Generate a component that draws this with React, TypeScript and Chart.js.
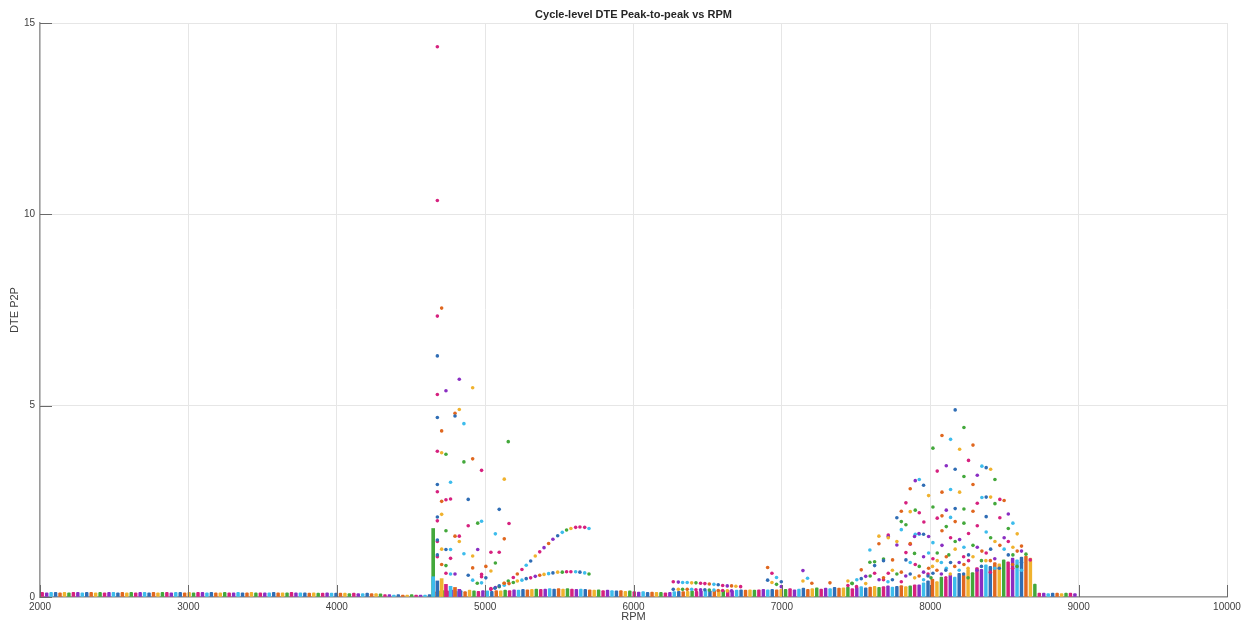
import React, { useEffect, useRef } from 'react';
import { Chart, registerables } from 'chart.js';

Chart.register(...registerables);

// ---- Texts ----
const chartTitle = 'Cycle-level DTE Peak-to-peak vs RPM';
const xTitle = 'RPM';
const yTitle = 'DTE P2P';

// ---- Axis ticks ----
const xTickValues = [2000, 3000, 4000, 5000, 6000, 7000, 8000, 9000, 10000];
const yTickValues = [0, 5, 10, 15];

// ---- Dense low band (stacked columns of cycles at each RPM step) ----
const baseRpm = [
  2015, 2045, 2075, 2105, 2135, 2165, 2195, 2225, 2255, 2285,
  2315, 2345, 2375, 2405, 2435, 2465, 2495, 2525, 2555, 2585,
  2615, 2645, 2675, 2705, 2735, 2765, 2795, 2825, 2855, 2885,
  2915, 2945, 2975, 3005, 3035, 3065, 3095, 3125, 3155, 3185,
  3215, 3245, 3275, 3305, 3335, 3365, 3395, 3425, 3455, 3485,
  3515, 3545, 3575, 3605, 3635, 3665, 3695, 3725, 3755, 3785,
  3815, 3845, 3875, 3905, 3935, 3965, 3995, 4025, 4055, 4085,
  4115, 4145, 4175, 4205, 4235, 4265, 4295,
  4325, 4355, 4385, 4415, 4445, 4475, 4505, 4535, 4565, 4595, 4625,
  4655, 4685, 4715, 4745, 4775, 4805, 4835, 4865, 4895, 4925, 4955, 4985,
  5015, 5045, 5075, 5105, 5135, 5165, 5195, 5225, 5255, 5285, 5315,
  5345, 5375, 5405, 5435, 5465, 5495, 5525, 5555, 5585, 5615, 5645,
  5675, 5705, 5735, 5765, 5795, 5825, 5855, 5885, 5915, 5945, 5975,
  6005, 6035, 6065, 6095, 6125, 6155, 6185, 6215, 6245,
  6275, 6305, 6335, 6365, 6395, 6425, 6455, 6485, 6515, 6545, 6575, 6605, 6635,
  6665, 6695, 6725, 6755, 6785, 6815, 6845, 6875, 6905, 6935, 6965, 6995,
  7025, 7055, 7085, 7115, 7145, 7175, 7205, 7235, 7265, 7295,
  7325, 7355, 7385, 7415, 7445, 7475, 7505, 7535, 7565, 7595,
  7625, 7655, 7685, 7715, 7745, 7775, 7805, 7835, 7865, 7895,
  7925, 7955, 7985, 8015, 8045, 8075, 8105, 8135, 8165, 8195,
  8225, 8255, 8285, 8315, 8345, 8375, 8405, 8435, 8465, 8495,
  8525, 8555, 8585, 8615, 8645, 8675, 8705,
  8735, 8765, 8795, 8825, 8855, 8885, 8915, 8945, 8975,
];
const baseTop = [
  0.12, 0.11, 0.12, 0.12, 0.11, 0.12, 0.11, 0.12, 0.12, 0.11,
  0.12, 0.12, 0.11, 0.12, 0.11, 0.12, 0.12, 0.11, 0.12, 0.11,
  0.12, 0.11, 0.12, 0.12, 0.11, 0.12, 0.11, 0.12, 0.12, 0.11,
  0.12, 0.12, 0.11, 0.12, 0.11, 0.12, 0.12, 0.11, 0.12, 0.11,
  0.11, 0.12, 0.11, 0.11, 0.12, 0.11, 0.11, 0.12, 0.11, 0.11,
  0.11, 0.11, 0.12, 0.11, 0.11, 0.11, 0.12, 0.11, 0.11, 0.11,
  0.1, 0.11, 0.1, 0.1, 0.11, 0.1, 0.1, 0.1, 0.1, 0.09,
  0.1, 0.09, 0.09, 0.1, 0.09, 0.09, 0.08,
  0.06, 0.06, 0.05, 0.06, 0.05, 0.05, 0.06, 0.05, 0.05, 0.05, 0.06,
  0.14, 0.16, 0.17, 0.16, 0.18, 0.15, 0.17, 0.14, 0.18, 0.16, 0.15, 0.17,
  0.16, 0.15, 0.17, 0.16, 0.18, 0.17, 0.19, 0.18, 0.2, 0.19, 0.2,
  0.21, 0.2, 0.21, 0.22, 0.21, 0.22, 0.21, 0.22, 0.21, 0.2, 0.21,
  0.2, 0.19, 0.18, 0.19, 0.17, 0.18, 0.17, 0.16, 0.17, 0.15, 0.16,
  0.14, 0.13, 0.14, 0.12, 0.13, 0.12, 0.12, 0.11, 0.12,
  0.14, 0.15, 0.14, 0.15, 0.16, 0.15, 0.16, 0.17, 0.16, 0.17, 0.18, 0.17, 0.18,
  0.17, 0.18, 0.19, 0.18, 0.19, 0.18, 0.19, 0.2, 0.19, 0.2, 0.19, 0.2,
  0.2, 0.22, 0.19, 0.21, 0.23, 0.2, 0.22, 0.24, 0.21, 0.23,
  0.22, 0.25, 0.23, 0.24, 0.26, 0.22, 0.25, 0.27, 0.24, 0.26,
  0.28, 0.25, 0.27, 0.29, 0.26, 0.28, 0.3, 0.27, 0.29, 0.32,
  0.32, 0.37, 0.42, 0.47, 0.4, 0.52, 0.47, 0.57, 0.52, 0.62,
  0.57, 0.72, 0.64, 0.77, 0.72, 0.84, 0.8, 0.9, 0.87, 0.97,
  0.92, 1.02, 0.97, 1.04, 1.07, 1.02, 0.34,
  0.1, 0.1, 0.09, 0.1, 0.1, 0.09, 0.1, 0.1, 0.09,
];

// ---- Tall dense columns near the 4650 RPM resonance ----
const tallRpm = [4650, 4650, 4678, 4707, 4736, 4767, 4797, 4826];
const tallTop = [1.79, 0.53, 0.42, 0.48, 0.33, 0.28, 0.25, 0.2];

// ---- Individual cycle points, one series per colour ----
const blueRpm = [4678, 4678, 4678, 4678, 4678, 4678, 4797, 4886, 4886, 5095, 4736, 5066, 5005, 6904, 6996, 7535, 7625, 7685, 7836, 7775, 7955, 7955, 8168, 8168, 8168, 8377, 8377, 8377, 5307, 5489, 5095, 5277, 5457, 5639, 6571, 6268, 6481, 8018, 8137, 8258, 8407, 8526, 8615, 7745, 7865, 7985, 8105, 8225, 8345, 8465];
const blueP2P = [6.3, 4.69, 2.94, 2.09, 1.49, 1.1, 4.73, 2.55, 0.57, 2.29, 1.24, 0.23, 0.5, 0.44, 0.4, 0.48, 0.82, 0.95, 0.97, 2.07, 2.92, 1.64, 4.89, 3.34, 2.31, 3.38, 2.61, 2.1, 0.94, 1.6, 0.29, 0.48, 0.63, 0.65, 0.32, 0.2, 0.19, 0.62, 0.9, 1.1, 1.25, 1.1, 0.9, 0.45, 0.6, 0.55, 0.7, 0.6, 0.8, 0.75];

const orangeRpm = [4707, 4707, 4707, 4707, 4797, 4797, 4916, 4916, 5129, 5005, 6904, 7202, 7324, 7535, 7654, 7746, 7865, 7865, 7805, 8079, 8079, 8079, 8079, 8288, 8288, 8288, 8498, 8168, 8615, 5129, 5217, 5428, 5161, 5368, 6511, 6661, 6362, 6571, 7989, 8108, 8227, 8348, 8469, 8586, 7685, 7805, 7925, 8045, 8165, 8405, 8555];
const orangeP2P = [7.55, 4.34, 2.5, 0.85, 4.8, 1.59, 3.61, 0.76, 1.52, 0.8, 0.77, 0.36, 0.37, 0.71, 1.39, 0.97, 1.4, 2.83, 2.24, 4.22, 2.74, 2.12, 1.73, 3.97, 2.94, 2.24, 2.52, 1.97, 1.33, 0.36, 0.6, 1.4, 0.35, 0.57, 0.34, 0.29, 0.2, 0.17, 0.75, 1.05, 0.85, 1.2, 1.35, 1.2, 0.5, 0.65, 0.55, 0.7, 0.8, 0.95, 0.85];

const yellowRpm = [4916, 4826, 4707, 4707, 4707, 5129, 4826, 4916, 5039, 5127, 6933, 7142, 7445, 7654, 7775, 7717, 7865, 7989, 8198, 8198, 8407, 8407, 8586, 5338, 5578, 5217, 5397, 5489, 6392, 6690, 6302, 6632, 8047, 8168, 8288, 8436, 8557, 7565, 7745, 7895, 8015, 8135, 8255, 8375];
const yellowP2P = [5.47, 4.9, 3.77, 2.16, 1.25, 3.08, 1.45, 1.07, 0.68, 0.36, 0.38, 0.42, 0.42, 1.59, 1.45, 1.55, 2.23, 2.65, 3.86, 2.74, 3.34, 2.61, 1.65, 1.07, 1.79, 0.42, 0.59, 0.65, 0.37, 0.28, 0.2, 0.16, 0.95, 1.25, 1.05, 1.45, 1.3, 0.35, 0.7, 0.5, 0.8, 0.6, 0.75, 0.95];

const purpleRpm = [4826, 4736, 4950, 4797, 6996, 7142, 7717, 7775, 7894, 7924, 7899, 7989, 8108, 8108, 8317, 8526, 7565, 5397, 5457, 5069, 5338, 6302, 6632, 6452, 6661, 7955, 8079, 8198, 8317, 8498, 8615, 7655, 7835, 7955, 8075, 8195, 8315, 8435];
const purpleP2P = [5.69, 5.39, 1.24, 0.6, 0.27, 0.69, 1.58, 1.36, 1.58, 1.66, 3.04, 1.58, 3.43, 2.27, 3.18, 2.17, 0.54, 1.29, 1.51, 0.25, 0.54, 0.39, 0.29, 0.19, 0.16, 1.05, 1.35, 1.5, 1.3, 1.55, 1.2, 0.45, 0.55, 0.65, 0.6, 0.9, 0.7, 1.0];

const greenRpm = [5156, 4736, 4736, 4736, 4857, 4950, 5069, 4947, 5095, 6964, 7474, 7593, 7685, 7805, 7894, 7836, 7625, 8018, 8018, 8227, 8227, 8227, 8227, 8436, 8436, 8108, 8526, 8645, 7472, 7899, 5156, 5549, 5190, 5520, 5700, 6421, 6331, 6511, 7926, 8047, 8168, 8288, 8407, 8557, 7595, 7775, 8005, 8125, 8255, 8345, 8585];
const greenP2P = [4.06, 3.73, 1.73, 0.82, 3.53, 1.93, 0.89, 0.36, 0.27, 0.33, 0.35, 0.91, 0.99, 1.97, 1.14, 1.89, 0.92, 3.89, 2.35, 4.43, 3.15, 2.3, 1.93, 3.07, 2.44, 1.84, 1.79, 1.12, 0.36, 2.27, 0.42, 1.75, 0.38, 0.65, 0.6, 0.37, 0.2, 0.18, 0.8, 1.15, 1.45, 1.35, 1.55, 1.1, 0.55, 0.6, 0.5, 1.1, 0.5, 0.95, 0.8];

const cyanRpm = [4857, 4857, 4767, 4767, 4976, 5069, 4767, 4916, 4976, 6964, 7173, 7593, 7805, 7899, 7926, 7926, 8137, 8137, 8137, 8348, 8348, 8557, 8018, 5277, 5520, 5700, 5129, 5248, 5428, 5610, 5671, 6331, 6362, 6542, 6392, 6542, 7865, 7989, 8108, 8227, 8377, 8498, 7505, 7715, 7955, 8075, 8195, 8435, 8615];
const cyanP2P = [4.53, 1.13, 3.0, 1.24, 1.98, 1.65, 0.6, 0.44, 0.37, 0.51, 0.49, 1.23, 1.76, 1.64, 3.07, 1.64, 4.12, 2.81, 2.08, 3.42, 2.6, 1.93, 1.42, 0.83, 1.69, 1.79, 0.31, 0.44, 0.61, 0.66, 0.63, 0.38, 0.38, 0.33, 0.2, 0.18, 0.9, 1.15, 0.75, 1.3, 1.7, 1.25, 0.45, 0.4, 0.45, 0.9, 0.7, 0.75, 0.7];

const magentaRpm = [4678, 4678, 4678, 4678, 4678, 4678, 4678, 4678, 4678, 4736, 4736, 4767, 4767, 4976, 4976, 4976, 4886, 5161, 4826, 5039, 5039, 5095, 6933, 7625, 7717, 7717, 7836, 7836, 7865, 7926, 8047, 8047, 7957, 8258, 8258, 8317, 8317, 8469, 8469, 8674, 7503, 5190, 5248, 5368, 5610, 5639, 5671, 5039, 5307, 5549, 5578, 6268, 6452, 6481, 6601, 6722, 6421, 6601, 7899, 8018, 8137, 8258, 8377, 8526, 7445, 7685, 7805, 7985, 8105, 8225, 8405, 8555];
const magentaP2P = [14.38, 10.36, 7.34, 5.29, 3.81, 2.75, 1.99, 1.45, 1.05, 2.54, 0.62, 2.56, 1.01, 3.31, 0.59, 0.53, 1.86, 1.92, 1.59, 1.17, 0.2, 1.17, 0.62, 0.62, 1.62, 0.62, 1.16, 2.46, 1.38, 2.2, 3.29, 2.06, 1.96, 3.57, 1.66, 2.45, 1.86, 2.55, 2.07, 0.97, 0.27, 0.51, 0.72, 1.18, 1.82, 1.83, 1.82, 0.22, 0.5, 0.66, 0.66, 0.4, 0.36, 0.35, 0.3, 0.27, 0.19, 0.17, 0.85, 1.0, 1.55, 0.95, 1.15, 1.45, 0.3, 0.45, 0.4, 0.6, 0.5, 1.05, 0.65, 0.75];

// ---- Styles ----
const BLUE = '#2F6DB5';
const ORANGE = '#E0671F';
const YELLOW = '#F0B22E';
const PURPLE = '#8A2EC2';
const GREEN = '#43A83B';
const CYAN = '#3DBCEC';
const MAGENTA = '#D6217F';
const baseCycle = [MAGENTA, PURPLE, CYAN, BLUE, ORANGE, YELLOW, GREEN];
const tallColors = [GREEN, CYAN, BLUE, YELLOW, MAGENTA, CYAN, ORANGE, PURPLE];

const FONT = "'Liberation Sans', Arial, Helvetica, sans-serif";

const toPts = (xs: number[], ys: number[]) => xs.map((x, i) => ({ x, y: ys[i] }));

const inwardTicks = {
  id: 'inwardTicks',
  afterDatasetsDraw(chart: any) {
    const { ctx, chartArea, scales } = chart;
    const len = 12;
    ctx.save();
    ctx.strokeStyle = '#6a6a6a';
    ctx.lineWidth = 1;
    ctx.beginPath();
    xTickValues.forEach((v) => {
      const px = Math.round(scales.x.getPixelForValue(v)) + 0.5;
      ctx.moveTo(px, chartArea.bottom);
      ctx.lineTo(px, chartArea.bottom - len);
    });
    yTickValues.forEach((v) => {
      const py = Math.round(scales.y.getPixelForValue(v)) + 0.5;
      ctx.moveTo(chartArea.left, py);
      ctx.lineTo(chartArea.left + len, py);
    });
    ctx.stroke();
    ctx.restore();
  },
};

const centeredTitle = {
  id: 'centeredTitle',
  afterDraw(chart: any) {
    const { ctx, chartArea } = chart;
    ctx.save();
    ctx.font = `bold 11px ${FONT}`;
    ctx.fillStyle = '#262626';
    ctx.textAlign = 'center';
    ctx.textBaseline = 'middle';
    ctx.fillText(chartTitle, (chartArea.left + chartArea.right) / 2, 15);
    ctx.restore();
  },
};

export default function App() {
  const canvasRef = useRef<HTMLCanvasElement | null>(null);

  useEffect(() => {
    if (!canvasRef.current) return;
    const pointSet = (label: string, xs: number[], ys: number[], color: string) => ({
      type: 'scatter' as const,
      label,
      data: toPts(xs, ys),
      backgroundColor: color,
      borderColor: color,
      pointRadius: 1.8,
      pointBorderWidth: 0,
      pointHoverRadius: 1.8,
      showLine: false,
      order: 0,
    });
    const chart = new Chart(canvasRef.current, {
      type: 'scatter',
      data: {
        datasets: [
          pointSet('Series 1', blueRpm, blueP2P, BLUE),
          pointSet('Series 2', orangeRpm, orangeP2P, ORANGE),
          pointSet('Series 3', yellowRpm, yellowP2P, YELLOW),
          pointSet('Series 4', purpleRpm, purpleP2P, PURPLE),
          pointSet('Series 5', greenRpm, greenP2P, GREEN),
          pointSet('Series 6', cyanRpm, cyanP2P, CYAN),
          pointSet('Series 7', magentaRpm, magentaP2P, MAGENTA),
          {
            type: 'bar' as const,
            label: 'Dense cycles',
            data: toPts(tallRpm, tallTop) as any,
            backgroundColor: tallColors,
            barThickness: 3,
            grouped: false,
            order: 1,
          } as any,
          {
            type: 'bar' as const,
            label: 'Low band',
            data: toPts(baseRpm, baseTop) as any,
            backgroundColor: (c: any) => baseCycle[c.dataIndex % baseCycle.length],
            barThickness: 2.8,
            borderRadius: 1,
            grouped: false,
            order: 2,
          } as any,
        ],
      },
      options: {
        animation: false,
        responsive: true,
        maintainAspectRatio: false,
        layout: { padding: { left: 0, right: 24, top: 23, bottom: 0 } },
        plugins: {
          legend: { display: false },
          tooltip: { enabled: false },
          title: { display: false },
        },
        scales: {
          x: {
            type: 'linear',
            min: 2000,
            max: 10000,
            offset: false,
            afterBuildTicks: (scale: any) => {
              scale.ticks = xTickValues.map((v) => ({ value: v }));
            },
            afterFit: (scale: any) => {
              scale.height = 27;
            },
            ticks: {
              autoSkip: false,
              maxRotation: 0,
              padding: 4,
              color: '#404040',
              font: { family: FONT, size: 10 },
              callback: (v: any) => String(v),
            },
            grid: { color: '#e6e6e6', drawTicks: false, lineWidth: 1, offset: false },
            border: { display: true, color: '#9a9a9a', width: 1.5 },
            title: {
              display: true,
              text: xTitle,
              color: '#404040',
              font: { family: FONT, size: 11 },
              padding: 0,
            },
          },
          y: {
            type: 'linear',
            min: 0,
            max: 15,
            afterBuildTicks: (scale: any) => {
              scale.ticks = yTickValues.map((v) => ({ value: v }));
            },
            afterFit: (scale: any) => {
              scale.width = 40;
            },
            ticks: {
              padding: 5,
              color: '#404040',
              font: { family: FONT, size: 10 },
            },
            grid: { color: '#e6e6e6', drawTicks: false, lineWidth: 1 },
            border: { display: true, color: '#9a9a9a', width: 1.5 },
            title: {
              display: true,
              text: yTitle,
              color: '#404040',
              font: { family: FONT, size: 11 },
              padding: { top: 8, bottom: 0 },
            },
          },
        },
      },
      plugins: [inwardTicks, centeredTitle],
    });
    return () => chart.destroy();
  }, []);

  return (
    <div style={{ position: 'absolute', left: 0, top: 0, width: 1251, height: 624, background: '#fff' }}>
      <canvas ref={canvasRef} />
    </div>
  );
}
